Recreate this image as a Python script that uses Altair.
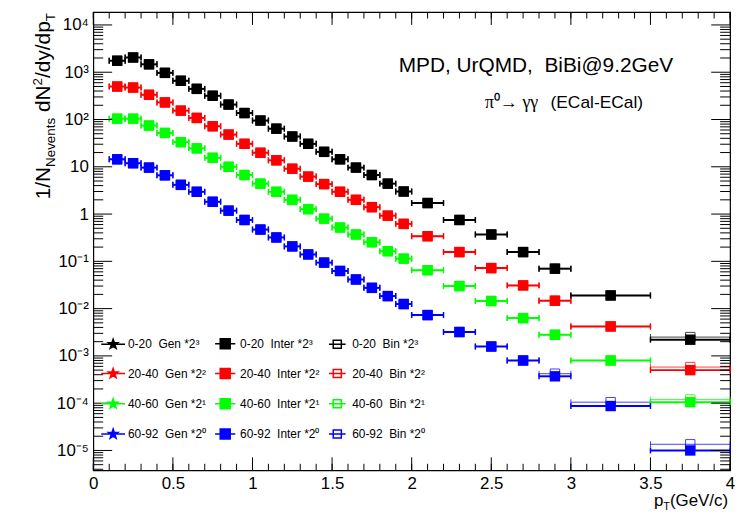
import math
import altair as alt
import pandas as pd

# ---------------- data ----------------
pt_center = [0.15, 0.25, 0.35, 0.45, 0.55, 0.65, 0.75, 0.85, 0.95, 1.05, 1.15, 1.25, 1.35,
             1.45, 1.55, 1.65, 1.75, 1.85, 1.95, 2.1, 2.3, 2.5, 2.7, 2.9, 3.25, 3.75]
pt_low = [0.1, 0.2, 0.3, 0.4, 0.5, 0.6, 0.7, 0.8, 0.9, 1.0, 1.1, 1.2, 1.3,
          1.4, 1.5, 1.6, 1.7, 1.8, 1.9, 2.0, 2.2, 2.4, 2.6, 2.8, 3.0, 3.5]
pt_high = [0.2, 0.3, 0.4, 0.5, 0.6, 0.7, 0.8, 0.9, 1.0, 1.1, 1.2, 1.3, 1.4,
           1.5, 1.6, 1.7, 1.8, 1.9, 2.0, 2.2, 2.4, 2.6, 2.8, 3.0, 3.5, 4.0]

classes = ["0-20", "20-40", "40-60", "60-92"]
class_colors = ["#000000", "#ff0000", "#00ff00", "#0000ff"]
class_powers = ["³", "²", "¹", "⁰"]
kinds = ["Gen", "Inter", "Bin"]

inter_0_20 = [1750, 2050, 1470, 970, 660, 445, 318, 207, 137, 95, 64, 43.7, 30.6,
              20.7, 14.4, 9.6, 6.7, 4.4, 3.0, 1.71, 0.75, 0.37, 0.157, 0.070, 0.019, 0.0022]
inter_20_40 = [498, 474, 333, 230, 154, 108, 72, 48, 30.6, 19.8, 13.7, 9.1, 6.2,
               4.3, 2.96, 2.0, 1.4, 0.925, 0.62, 0.34, 0.157, 0.072, 0.031, 0.0147, 0.0042, 0.0005]
inter_40_60 = [104, 104, 74.5, 52, 33.2, 24.5, 15.5, 10.0, 6.7, 4.4, 2.96, 2.0, 1.27,
               0.80, 0.52, 0.37, 0.254, 0.164, 0.114, 0.065, 0.030, 0.0145, 0.0063, 0.0028, 0.0008, 0.000105]
inter_60_92 = [14.4, 11.9, 9.6, 6.6, 4.15, 2.96, 1.82, 1.18, 0.75, 0.47, 0.32, 0.207, 0.14,
               0.094, 0.0626, 0.0413, 0.0275, 0.0184, 0.0125, 0.0073, 0.0032, 0.00158, 0.0008, 0.00037, 0.000087, 0.00001]

bin_0_20 = [1750, 2050, 1470, 970, 660, 445, 318, 207, 137, 95, 64, 43.7, 30.6,
            20.7, 14.4, 9.6, 6.7, 4.4, 3.0, 1.71, 0.75, 0.37, 0.157, 0.070, 0.019, 0.0025]
bin_20_40 = [498, 474, 333, 230, 154, 108, 72, 48, 30.6, 19.8, 13.7, 9.1, 6.2,
             4.3, 2.96, 2.0, 1.4, 0.925, 0.62, 0.34, 0.157, 0.072, 0.031, 0.0147, 0.0042, 0.00058]
bin_40_60 = [104, 104, 74.5, 52, 33.2, 24.5, 15.5, 10.0, 6.7, 4.4, 2.96, 2.0, 1.27,
             0.80, 0.52, 0.37, 0.254, 0.164, 0.114, 0.065, 0.030, 0.0145, 0.0063, 0.0028, 0.0008, 0.00012]
bin_60_92 = [14.4, 11.9, 9.6, 6.6, 4.15, 2.96, 1.82, 1.18, 0.75, 0.47, 0.32, 0.207, 0.14,
             0.094, 0.0626, 0.0413, 0.0275, 0.0184, 0.0125, 0.0073, 0.0032, 0.00158, 0.0008, 0.00042, 0.000105, 0.0000135]

x_label_values = [0, 0.5, 1, 1.5, 2, 2.5, 3, 3.5, 4]
x_minor_values = [i / 10 for i in range(0, 41)]
y_label_values = [1e-5, 1e-4, 1e-3, 1e-2, 1e-1, 1, 10, 100, 1000, 10000]
y_label_texts = ["10⁻⁵", "10⁻⁴", "10⁻³", "10⁻²", "10⁻¹", "1", "10", "10²", "10³", "10⁴"]

title_main = "MPD, UrQMD,\u00a0\u00a0BiBi@9.2GeV"
title_decay = "π⁰→ γγ"
title_calo = "(ECal-ECal)"

# ---------------- layout constants ----------------
W, H = 642, 462
FONT = "Liberation Sans"
Y_DOMAIN = [3.81e-6, 1.875e4]

inter_lists = [inter_0_20, inter_20_40, inter_40_60, inter_60_92]
bin_lists = [bin_0_20, bin_20_40, bin_40_60, bin_60_92]


def make_df(lists):
    rows = []
    for cls, vals in zip(classes, lists):
        for c, lo, hi, v in zip(pt_center, pt_low, pt_high, vals):
            rows.append({"cls": cls, "pt": c, "lo": lo, "hi": hi, "val": v})
    return pd.DataFrame(rows)


df_inter = make_df(inter_lists)
df_bin = make_df(bin_lists)

xs = alt.Scale(domain=[0, 4], nice=False, zero=False)
ys = alt.Scale(type="log", domain=Y_DOMAIN, nice=False)

xaxis = alt.Axis(values=x_label_values, labelExpr="format(datum.value, '~g')", ticks=False,
                 domain=False, grid=False, title=None, labelFontSize=17, labelFont=FONT,
                 labelColor="black", labelPadding=5, labelFlush=False, labelOverlap=False,
                 labelBound=False)
label_arr = "[" + ",".join("'" + t + "'" for t in y_label_texts) + "]"
yaxis = alt.Axis(values=y_label_values,
                 labelExpr=label_arr + "[round(log(datum.value)/LN10)+5]",
                 ticks=False, domain=False, grid=False, title=None, labelFontSize=17,
                 labelFont=FONT, labelColor="black", labelPadding=5, labelFlush=False,
                 labelOverlap=False, labelBound=False)

color_enc = alt.Color("cls:N", scale=alt.Scale(domain=classes, range=class_colors), legend=None)


def series_layers(df, filled, bar_w, cap_w, opacity):
    base = alt.Chart(df)
    rule = base.mark_rule(strokeWidth=bar_w, opacity=opacity).encode(
        x=alt.X("lo:Q", scale=xs, axis=xaxis), x2="hi:Q",
        y=alt.Y("val:Q", scale=ys, axis=yaxis), color=color_enc)
    cap_lo = base.mark_tick(orient="vertical", size=6, thickness=cap_w, opacity=opacity).encode(
        x=alt.X("lo:Q", scale=xs, axis=xaxis), y=alt.Y("val:Q", scale=ys, axis=yaxis), color=color_enc)
    cap_hi = base.mark_tick(orient="vertical", size=6, thickness=cap_w, opacity=opacity).encode(
        x=alt.X("hi:Q", scale=xs, axis=xaxis), y=alt.Y("val:Q", scale=ys, axis=yaxis), color=color_enc)
    sq = base.mark_square(filled=filled, size=110 if filled else 90, strokeWidth=1,
                          opacity=opacity).encode(
        x=alt.X("pt:Q", scale=xs, axis=xaxis), y=alt.Y("val:Q", scale=ys, axis=yaxis), color=color_enc)
    return [rule, cap_lo, cap_hi, sq]


layers = []
layers += series_layers(df_bin, False, 1, 1, 0.75)
layers += series_layers(df_inter, True, 2, 1.5, 1.0)

# ---------------- frame ticks (inward, ROOT style) ----------------
y_major = [v for v in y_label_values]
y_minor = []
for n in range(-6, 5):
    for k in range(2, 10):
        v = k * 10 ** n
        if Y_DOMAIN[0] <= v <= Y_DOMAIN[1]:
            y_minor.append(v)
x_major = x_label_values


def ytick(vals, x0, x1):
    return alt.Chart(pd.DataFrame({"v": vals})).mark_rule(color="black", strokeWidth=1).encode(
        y=alt.Y("v:Q", scale=ys, axis=yaxis), x=alt.value(x0), x2=alt.value(x1))


def xtick(vals, y0, y1):
    return alt.Chart(pd.DataFrame({"v": vals})).mark_rule(color="black", strokeWidth=1).encode(
        x=alt.X("v:Q", scale=xs, axis=xaxis), y=alt.value(y0), y2=alt.value(y1))


layers += [
    ytick(y_major, 0, 19), ytick(y_minor, 0, 10),
    ytick(y_major, W, W - 19), ytick(y_minor, W, W - 10),
    xtick(x_major, H, H - 13), xtick(x_minor_values, H, H - 6.5),
    xtick(x_major, 0, 13), xtick(x_minor_values, 0, 6.5),
]

# ---------------- text annotations ----------------
one = pd.DataFrame({"d": [0]})


def txt(text, x, y, size, font=FONT, align="left", baseline="alphabetic", angle=0):
    return alt.Chart(one).mark_text(text=text, font=font, fontSize=size, align=align,
                                    baseline=baseline, angle=angle, color="black").encode(
        x=alt.value(x), y=alt.value(y))


layers.append(txt(title_main, 308, 60, 21))
layers.append(txt(title_decay, 395, 97, 18, font="Liberation Serif"))
layers.append(txt(title_calo, 461, 97, 17.5))

# Arial advance widths (1/1000 em) for composing sub/superscripted titles
AW = {'1': 556, '/': 278, 'N': 722, 'e': 556, 'v': 500, 'n': 556, 't': 278, 's': 500,
      ' ': 278, 'd': 556, '2': 556, 'y': 500, 'p': 556, 'T': 611, '(': 333,
      'G': 778, 'V': 667, 'c': 500, ')': 333}


def tw(s, size):
    return sum(AW[c] for c in s) / 1000 * size


# y-axis title: 1/N_Nevents dN^2/dy/dp_T  (rotated, read bottom-to-top)
# pieces: (text, font size, baseline shift, gap before)
FY, SY = 21, 13.5
ypieces = [("1/N", FY, 0, 0), ("Nevents", SY, 5, 0), ("dN", FY, 0, tw(" ", FY)),
           ("2", SY, -8, 0), ("/dy/dp", FY, 0, 0), ("T", SY, 5, 0)]
total = sum(tw(s, f) + g for s, f, _, g in ypieces)
ycur = total + 1
bx = -44
for s, f, dx, g in ypieces:
    ycur -= g
    layers.append(txt(s, bx + dx, ycur, f, angle=270))
    ycur -= tw(s, f)

# x-axis title p_T(GeV/c), right aligned
FX, SX = 17, 11
xend = 640
xbase = 498
layers.append(txt("(GeV/c)", xend, xbase, FX, align="right"))
xt = xend - tw("(GeV/c)", FX)
layers.append(txt("T", xt, xbase + 4, SX, align="right"))
xt -= tw("T", SX)
layers.append(txt("p", xt, xbase, FX, align="right"))

# ---------------- legend (3 columns x 4 rows) ----------------
def star_path(r_out=0.42, r_in=0.17):
    pts = []
    for i in range(10):
        r = r_out if i % 2 == 0 else r_in
        a = math.radians(-90 + 36 * i)
        pts.append(f"{r * math.cos(a):.3f},{r * math.sin(a):.3f}")
    return "M" + "L".join(pts) + "Z"


gen_path = "M-1,0H1" + star_path()
inter_path = "M-0.85,0H0.85M-0.42,-0.42H0.42V0.42H-0.42Z"
bin_path = "M-0.7,0H0.7M-0.34,-0.34H0.34V0.34H-0.34Z"
kind_paths = {"Gen": gen_path, "Inter": inter_path, "Bin": bin_path}

# the legend grid is filled column by column: order entries by kind, then class
entries, shapes, strokes, fills = [], [], [], []
for k in kinds:
    for cls, col, pw in zip(classes, class_colors, class_powers):
        entries.append(f"{cls}\u00a0\u00a0{k} *2{pw}")
        shapes.append(kind_paths[k])
        strokes.append(col)
        fills.append("rgba(0,0,0,0)" if k == "Bin" else col)

leg = alt.Legend(title=None, orient="none", legendX=7, legendY=321, columns=3,
                 gridAlign="all", columnPadding=3, rowPadding=8.5, padding=0,
                 symbolSize=576, symbolStrokeWidth=1.5, symbolOpacity=1, labelFont=FONT,
                 labelFontSize=12, labelColor="black", labelOffset=2, labelLimit=300)
legend_layer = alt.Chart(pd.DataFrame({"entry": entries})).mark_point(opacity=1).encode(
    x=alt.value(-3000), y=alt.value(-3000),
    shape=alt.Shape("entry:N", scale=alt.Scale(domain=entries, range=shapes), legend=leg),
    stroke=alt.Stroke("entry:N", scale=alt.Scale(domain=entries, range=strokes), legend=leg),
    fill=alt.Fill("entry:N", scale=alt.Scale(domain=entries, range=fills), legend=leg),
)
layers.append(legend_layer)

chart = alt.layer(*layers).properties(
    width=W, height=H,
    padding={"left": 86, "top": 2, "right": 6, "bottom": 40},
    autosize=alt.AutoSizeParams(type="none"),
    background="white",
).configure_view(stroke="black", strokeWidth=1.2)

chart.save("out.html", embed_options={"renderer": "svg", "actions": False})
